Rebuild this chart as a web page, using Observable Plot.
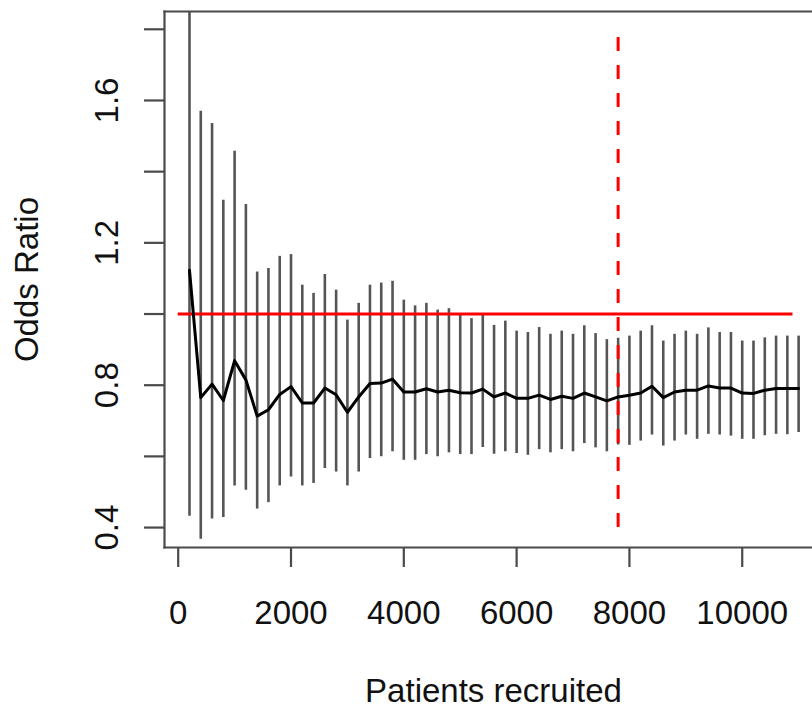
<!DOCTYPE html>
<html>
<head>
<meta charset="utf-8">
<script src="https://cdn.jsdelivr.net/npm/d3@7"></script>
<script src="https://cdn.jsdelivr.net/npm/@observablehq/plot@0.6"></script>
<style>
  html, body { margin: 0; padding: 0; background: #fff; overflow: hidden; }
  #chart svg { display: block; }
</style>
</head>
<body>
<div id="chart"></div>
<script>
// Patients recruited at each interim look
const patients = [200, 400, 600, 800, 1000, 1200, 1400, 1600, 1800, 2000,
  2200, 2400, 2600, 2800, 3000, 3200, 3400, 3600, 3800, 4000,
  4200, 4400, 4600, 4800, 5000, 5200, 5400, 5600, 5800, 6000,
  6200, 6400, 6600, 6800, 7000, 7200, 7400, 7600, 7800, 8000,
  8200, 8400, 8600, 8800, 9000, 9200, 9400, 9600, 9800, 10000,
  10200, 10400, 10600, 10800, 11000];

// Cumulative odds ratio estimate
const oddsRatio = [1.123, 0.765, 0.803, 0.757, 0.869, 0.815, 0.713, 0.731, 0.774, 0.796,
  0.750, 0.750, 0.792, 0.773, 0.724, 0.767, 0.805, 0.806, 0.817, 0.781,
  0.781, 0.790, 0.781, 0.786, 0.779, 0.778, 0.789, 0.767, 0.778, 0.763,
  0.763, 0.772, 0.760, 0.769, 0.763, 0.778, 0.767, 0.756, 0.767, 0.772,
  0.778, 0.797, 0.765, 0.781, 0.786, 0.786, 0.798, 0.792, 0.792, 0.778,
  0.777, 0.786, 0.791, 0.791, 0.791];

// Lower / upper confidence limits
const lower = [0.432, 0.367, 0.424, 0.428, 0.517, 0.505, 0.452, 0.470, 0.517, 0.542,
  0.517, 0.524, 0.566, 0.556, 0.517, 0.556, 0.594, 0.599, 0.613, 0.589,
  0.589, 0.605, 0.599, 0.610, 0.605, 0.605, 0.625, 0.606, 0.613, 0.608,
  0.603, 0.619, 0.610, 0.619, 0.613, 0.636, 0.624, 0.613, 0.632, 0.631,
  0.643, 0.660, 0.629, 0.643, 0.660, 0.648, 0.662, 0.660, 0.657, 0.648,
  0.648, 0.658, 0.662, 0.661, 0.667];

const upper = [2.200, 1.570, 1.535, 1.320, 1.457, 1.308, 1.118, 1.128, 1.162, 1.167,
  1.081, 1.058, 1.111, 1.067, 0.983, 1.030, 1.081, 1.087, 1.092, 1.039,
  1.023, 1.030, 1.011, 1.015, 0.997, 0.987, 0.999, 0.968, 0.980, 0.952,
  0.948, 0.962, 0.943, 0.952, 0.943, 0.967, 0.945, 0.928, 0.932, 0.938,
  0.952, 0.967, 0.924, 0.943, 0.952, 0.943, 0.961, 0.948, 0.948, 0.924,
  0.924, 0.933, 0.938, 0.938, 0.938];

// Reference lines
const nullLine = [{x1: 0, x2: 10900, y: 1.0}];
const stopLine = [{x: 7800, y1: 0.4, y2: 1.8}];

// Axis ticks
const xTicks = [0, 2000, 4000, 6000, 8000, 10000];
const yTicks = [0.4, 0.6, 0.8, 1.0, 1.2, 1.4, 1.6, 1.8];
const yLabels = [0.4, 0.8, 1.2, 1.6];

const xDomain = [-243, 11246];
const yDomain = [0.344, 1.850];

const data = patients.map((p, i) => ({p, or: oddsRatio[i], lo: lower[i], hi: upper[i]}));

const FONT = "Liberation Sans, Arial, sans-serif";
const AXIS = "#4a4a4a";

const chart = Plot.plot({
  width: 812,
  height: 710,
  marginLeft: 164,
  marginRight: 0,
  marginTop: 11,
  marginBottom: 163,
  style: {fontFamily: FONT, background: "#fff", color: "#111"},
  x: {domain: xDomain, axis: null},
  y: {domain: yDomain, axis: null},
  marks: [
    // confidence intervals
    Plot.ruleX(data, {x: "p", y1: "lo", y2: "hi", stroke: "#555", strokeWidth: 2.6, clip: true}),
    // null line
    Plot.ruleY(nullLine, {x1: "x1", x2: "x2", y: "y", stroke: "#ff0000", strokeWidth: 3}),
    // dashed stopping line
    Plot.ruleX(stopLine, {x: "x", y1: "y1", y2: "y2", stroke: "#ff0000", strokeWidth: 3, strokeDasharray: "14,14"}),
    // odds ratio path
    Plot.line(data, {x: "p", y: "or", stroke: "#000", strokeWidth: 3, strokeLinejoin: "round", clip: true}),
    // frame (left, top, bottom)
    Plot.frame({anchor: "left", stroke: AXIS, strokeWidth: 2.2}),
    Plot.frame({anchor: "top", stroke: AXIS, strokeWidth: 2.2}),
    Plot.frame({anchor: "bottom", stroke: AXIS, strokeWidth: 2.2}),
    // ticks
    Plot.axisX({ticks: xTicks, tickSize: 20, tickFormat: () => "", stroke: AXIS, strokeWidth: 2.2}),
    Plot.axisY({ticks: yTicks, tickSize: 20, tickFormat: () => "", stroke: AXIS, strokeWidth: 2.2}),
    // tick labels
    Plot.text(xTicks, {x: d => d, frameAnchor: "bottom", dy: 66, lineAnchor: "middle", text: d => String(d), fontSize: 33, fill: "#111"}),
    Plot.text(yLabels, {y: d => d, frameAnchor: "left", dx: -57, rotate: -90, textAnchor: "middle", lineAnchor: "middle", text: d => d.toFixed(1), fontSize: 33, fill: "#111"}),
    // axis titles
    Plot.text(["Patients recruited"], {frameAnchor: "bottom", dx: 5, dy: 144, lineAnchor: "middle", text: d => d, fontSize: 33, fill: "#111"}),
    Plot.text(["Odds Ratio"], {frameAnchor: "left", dx: -137, rotate: -90, textAnchor: "middle", lineAnchor: "middle", text: d => d, fontSize: 33, fill: "#111"})
  ]
});

document.getElementById("chart").appendChild(chart);
</script>
</body>
</html>
